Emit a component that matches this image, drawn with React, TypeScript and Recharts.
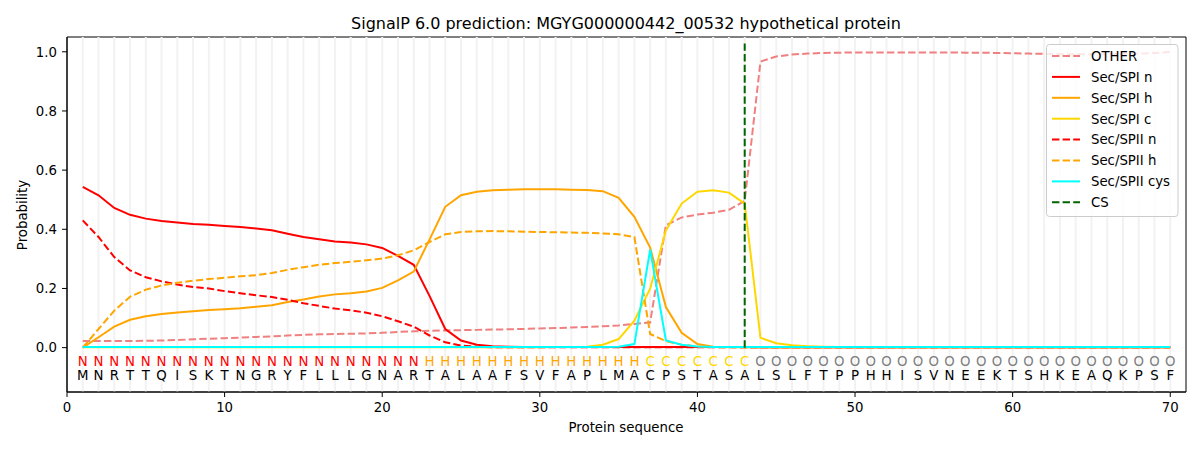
import React from "react";
import {
  LineChart,
  Line,
  XAxis,
  YAxis,
  ReferenceLine,
  ReferenceArea,
} from "recharts";

const residues =
  "MNRTTQISKTNGRYFLLLGNARTALAAFSVFAPLMACPSTASALSLFTPPHHISVNEEKTSHKEAQKPSF".split("");
const regions =
  "NNNNNNNNNNNNNNNNNNNNNNHHHHHHHHHHHHHHCCCCCCCOOOOOOOOOOOOOOOOOOOOOOOOOOO".split("");

const other = [
  0.022, 0.022, 0.022, 0.022, 0.023, 0.024, 0.026, 0.028, 0.03, 0.032,
  0.034, 0.036, 0.038, 0.041, 0.043, 0.045, 0.046, 0.047, 0.048, 0.05,
  0.053, 0.055, 0.057, 0.058, 0.059, 0.06, 0.061, 0.062, 0.063, 0.065,
  0.066, 0.068, 0.07, 0.072, 0.075, 0.08, 0.085, 0.414, 0.44, 0.45,
  0.456, 0.466, 0.496, 0.967, 0.984, 0.991, 0.994, 0.996, 0.997, 0.998,
  0.998, 0.998, 0.998, 0.998, 0.998, 0.998, 0.997, 0.997, 0.996, 0.995,
  0.994, 0.993, 0.992, 0.992, 0.992, 0.992, 0.993, 0.994, 0.996, 0.999,
];
const spiN = [
  0.543, 0.515, 0.472, 0.449, 0.436, 0.428, 0.423, 0.418, 0.415, 0.411,
  0.408, 0.403, 0.397, 0.385, 0.374, 0.366, 0.359, 0.355, 0.349, 0.337,
  0.31, 0.28, 0.175, 0.063, 0.024, 0.01, 0.005, 0.003, 0.002, 0.002,
  0.002, 0.002, 0.002, 0.002, 0.002, 0.002, 0.002, 0.002, 0.002, 0.002,
  0.002, 0.002, 0.002, 0.001, 0.001, 0.001, 0.001, 0.001, 0.001, 0.001,
  0.001, 0.001, 0.001, 0.001, 0.001, 0.001, 0.001, 0.001, 0.001, 0.001,
  0.001, 0.001, 0.001, 0.001, 0.001, 0.001, 0.001, 0.001, 0.001, 0.001,
];
const spiH = [
  0.0, 0.035, 0.071, 0.094, 0.106, 0.114, 0.119, 0.123, 0.127, 0.13,
  0.133, 0.138, 0.143, 0.154, 0.163, 0.173, 0.18, 0.184, 0.19, 0.202,
  0.227, 0.257, 0.365, 0.476, 0.515, 0.527, 0.532, 0.534, 0.535, 0.535,
  0.535, 0.534, 0.533, 0.529, 0.506, 0.442, 0.338, 0.137, 0.05, 0.012,
  0.003, 0.002, 0.001, 0.001, 0.001, 0.001, 0.001, 0.001, 0.001, 0.001,
  0.001, 0.001, 0.001, 0.001, 0.001, 0.001, 0.001, 0.001, 0.001, 0.001,
  0.001, 0.001, 0.001, 0.001, 0.001, 0.001, 0.001, 0.001, 0.001, 0.001,
];
const spiC = [
  0.001, 0.001, 0.001, 0.001, 0.001, 0.001, 0.001, 0.001, 0.001, 0.001,
  0.001, 0.001, 0.001, 0.001, 0.001, 0.001, 0.001, 0.001, 0.001, 0.001,
  0.001, 0.001, 0.001, 0.001, 0.001, 0.001, 0.001, 0.001, 0.001, 0.001,
  0.002, 0.002, 0.003, 0.01, 0.029, 0.091, 0.199, 0.396, 0.487, 0.527,
  0.532, 0.524, 0.487, 0.033, 0.015, 0.008, 0.005, 0.003, 0.002, 0.002,
  0.002, 0.002, 0.002, 0.002, 0.002, 0.002, 0.002, 0.002, 0.002, 0.002,
  0.002, 0.002, 0.002, 0.002, 0.002, 0.002, 0.002, 0.002, 0.002, 0.002,
];
const spiiN = [
  0.43, 0.374, 0.306, 0.261, 0.238, 0.224, 0.213, 0.205, 0.2, 0.191,
  0.184, 0.177, 0.171, 0.162, 0.15, 0.141, 0.132, 0.126, 0.118, 0.106,
  0.089, 0.071, 0.041, 0.018, 0.007, 0.003, 0.001, 0.001, 0.001, 0.001,
  0.001, 0.001, 0.001, 0.001, 0.001, 0.001, 0.001, 0.001, 0.001, 0.001,
  0.001, 0.001, 0.001, 0.001, 0.001, 0.001, 0.001, 0.001, 0.001, 0.001,
  0.001, 0.001, 0.001, 0.001, 0.001, 0.001, 0.001, 0.001, 0.001, 0.001,
  0.001, 0.001, 0.001, 0.001, 0.001, 0.001, 0.001, 0.001, 0.001, 0.001,
];
const spiiH = [
  0.0, 0.063, 0.125, 0.172, 0.196, 0.21, 0.219, 0.226, 0.232, 0.236,
  0.241, 0.245, 0.252, 0.263, 0.272, 0.28, 0.286, 0.29, 0.295, 0.301,
  0.312, 0.329, 0.357, 0.383, 0.391, 0.393, 0.394, 0.393, 0.392, 0.391,
  0.39, 0.389, 0.388, 0.386, 0.383, 0.374, 0.046, 0.022, 0.01, 0.004,
  0.002, 0.001, 0.001, 0.001, 0.001, 0.001, 0.001, 0.001, 0.001, 0.001,
  0.001, 0.001, 0.001, 0.001, 0.001, 0.001, 0.001, 0.001, 0.001, 0.001,
  0.001, 0.001, 0.001, 0.001, 0.001, 0.001, 0.001, 0.001, 0.001, 0.001,
];
const spiiCys = [
  0.002, 0.002, 0.002, 0.002, 0.002, 0.002, 0.002, 0.002, 0.002, 0.002,
  0.002, 0.002, 0.002, 0.002, 0.002, 0.002, 0.002, 0.002, 0.002, 0.002,
  0.002, 0.002, 0.002, 0.002, 0.002, 0.002, 0.002, 0.002, 0.002, 0.002,
  0.002, 0.002, 0.002, 0.002, 0.003, 0.012, 0.331, 0.024, 0.01, 0.004,
  0.002, 0.002, 0.002, 0.002, 0.002, 0.002, 0.002, 0.002, 0.002, 0.002,
  0.002, 0.002, 0.002, 0.002, 0.002, 0.002, 0.002, 0.002, 0.002, 0.002,
  0.002, 0.002, 0.002, 0.002, 0.002, 0.002, 0.002, 0.002, 0.002, 0.002,
];
const csPosition = 43;
const xTicks = [0, 10, 20, 30, 40, 50, 60, 70];
const yTicks = [0, 0.2, 0.4, 0.6, 0.8, 1.0];

const FONT = "'DejaVu Sans', sans-serif";
const DASH = "7.4 3.2";
// baselines of the two letter rows under the curves, in data units
const REGION_ROW = -0.0634;
const SEQ_ROW = -0.1108;

const regionColor: Record<string, string> = {
  N: "red",
  H: "orange",
  C: "gold",
  O: "grey",
};

const series = [
  { key: "other", name: "OTHER", color: "lightcoral", dash: DASH },
  { key: "spiN", name: "Sec/SPI n", color: "red", dash: undefined },
  { key: "spiH", name: "Sec/SPI h", color: "orange", dash: undefined },
  { key: "spiC", name: "Sec/SPI c", color: "gold", dash: undefined },
  { key: "spiiN", name: "Sec/SPII n", color: "red", dash: DASH },
  { key: "spiiH", name: "Sec/SPII h", color: "orange", dash: DASH },
  { key: "spiiCys", name: "Sec/SPII cys", color: "cyan", dash: undefined },
];

const data = residues.map((aa, i) => ({
  pos: i + 1,
  aa,
  region: regions[i],
  other: other[i],
  spiN: spiN[i],
  spiH: spiH[i],
  spiC: spiC[i],
  spiiN: spiiN[i],
  spiiH: spiiH[i],
  spiiCys: spiiCys[i],
  regionRow: REGION_ROW,
  seqRow: SEQ_ROW,
}));

const renderRegion = (p: any) => (
  <text
    key={"r" + p.index}
    x={p.cx}
    y={p.cy}
    textAnchor="middle"
    fontFamily={FONT}
    fontSize={13.3}
    fill={regionColor[p.payload.region]}
  >
    {p.payload.region}
  </text>
);

const renderResidue = (p: any) => (
  <text
    key={"s" + p.index}
    x={p.cx}
    y={p.cy}
    textAnchor="middle"
    fontFamily={FONT}
    fontSize={13.3}
    fill="#000"
  >
    {p.payload.aa}
  </text>
);

const tickStyle = { fontFamily: FONT, fontSize: 13.3, fill: "#000" };

export default function App() {
  const legendItems = [
    ...series,
    { key: "cs", name: "CS", color: "darkgreen", dash: DASH },
  ];
  return (
    <div
      style={{
        position: "absolute",
        left: 0,
        top: 0,
        width: 1200,
        height: 450,
        background: "#fff",
      }}
    >
      <LineChart
        width={1200}
        height={450}
        data={data}
        margin={{ top: 37, right: 14, bottom: 0, left: 0 }}
      >
        <XAxis
          dataKey="pos"
          type="number"
          domain={[0, 71]}
          ticks={xTicks}
          allowDataOverflow
          height={58}
          tickSize={5}
          tickMargin={6}
          tick={tickStyle}
          stroke="#000"
        />
        <YAxis
          type="number"
          domain={[-0.15, 1.05]}
          ticks={yTicks}
          allowDataOverflow
          width={67}
          tickSize={5}
          tickMargin={5}
          tick={tickStyle}
          tickFormatter={(v: number) => v.toFixed(1)}
          stroke="#000"
        />
        {data.map((d) => (
          <ReferenceLine
            key={"g" + d.pos}
            x={d.pos}
            stroke="#f2f2f2"
            strokeWidth={2}
          />
        ))}
        <ReferenceArea
          x1={0}
          x2={71}
          y1={-0.15}
          y2={1.05}
          fill="none"
          stroke="#000"
          strokeWidth={1}
        />
        {series.map((s) => (
          <Line
            key={s.key}
            dataKey={s.key}
            name={s.name}
            type="linear"
            stroke={s.color}
            strokeWidth={2}
            strokeDasharray={s.dash}
            dot={false}
            activeDot={false}
            isAnimationActive={false}
          />
        ))}
        <ReferenceLine
          segment={[
            { x: csPosition, y: 0 },
            { x: csPosition, y: 1.035 },
          ]}
          stroke="darkgreen"
          strokeWidth={2}
          strokeDasharray={DASH}
        />
        <Line
          dataKey="regionRow"
          stroke="none"
          dot={renderRegion}
          activeDot={false}
          legendType="none"
          isAnimationActive={false}
        />
        <Line
          dataKey="seqRow"
          stroke="none"
          dot={renderResidue}
          activeDot={false}
          legendType="none"
          isAnimationActive={false}
        />
      </LineChart>
      <svg
        width={1200}
        height={450}
        style={{ position: "absolute", left: 0, top: 0, pointerEvents: "none" }}
      >
        <text
          x={626}
          y={29}
          textAnchor="middle"
          fontFamily={FONT}
          fontSize={16}
          fill="#000"
        >
          SignalP 6.0 prediction: MGYG000000442_00532 hypothetical protein
        </text>
        <text
          x={626}
          y={432}
          textAnchor="middle"
          fontFamily={FONT}
          fontSize={13.3}
          fill="#000"
        >
          Protein sequence
        </text>
        <text
          transform="translate(27,215) rotate(-90)"
          textAnchor="middle"
          fontFamily={FONT}
          fontSize={13.3}
          fill="#000"
        >
          Probability
        </text>
        <rect
          x={1046.5}
          y={44.5}
          width={131.5}
          height={172}
          rx={3}
          fill="#fff"
          fillOpacity={0.8}
          stroke="#cccccc"
        />
        {legendItems.map((s, i) => {
          const cy = 56 + i * 20.9;
          return (
            <g key={s.key}>
              <line
                x1={1052}
                x2={1080}
                y1={cy}
                y2={cy}
                stroke={s.color}
                strokeWidth={2}
                strokeDasharray={s.dash}
              />
              <text
                x={1091}
                y={cy + 4.8}
                fontFamily={FONT}
                fontSize={13.3}
                fill="#000"
              >
                {s.name}
              </text>
            </g>
          );
        })}
      </svg>
    </div>
  );
}
